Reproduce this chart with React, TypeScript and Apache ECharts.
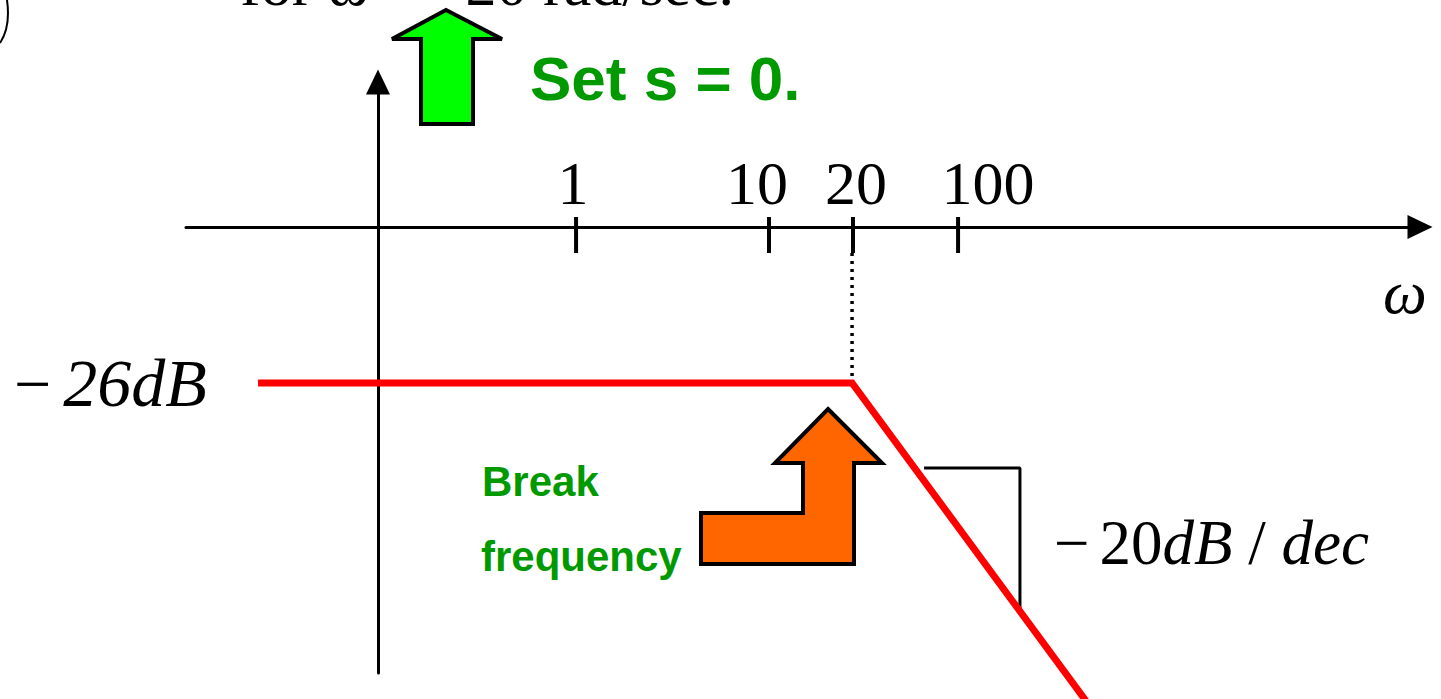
import React, { useEffect, useRef } from "react";
import * as echarts from "echarts";

// Sketch coordinates: x = decades measured from the vertical axis (sketch, not to scale), y = dB
const tickLabels = ["1", "10", "20", "100"];
const tickPos = [1.037, 2.047, 2.487, 3.037];
const magnitudeX = [-0.628, 2.482, 3.73];
const magnitudeDb = [-26, -26, -80];
const breakLineX = [2.482, 2.482];
const breakLineDb = [-4.33, -26];
const slopeX = [2.859, 3.361, 3.361];
const slopeDb = [-40.17, -40.17, -64];
const levelLabel = "26dB";
const slopeLabel = ["20", "dB", " / ", "dec"];

const SERIF = '"Liberation Serif", "Times New Roman", serif';
const SANS = '"Liberation Sans", Arial, sans-serif';
const labelShift = [-3, -12, 3, 30];

export default function App() {
  const ref = useRef<HTMLDivElement>(null);
  useEffect(() => {
    if (!ref.current) return;
    const chart = echarts.init(ref.current, undefined, { renderer: "svg" });
    const zip = (xs: number[], ys: number[]) => xs.map((x, i) => [x, ys[i]]);
    chart.setOption({
      animation: false,
      backgroundColor: "#ffffff",
      grid: { left: 186, right: 21, top: 82, bottom: 26, containLabel: false },
      xAxis: {
        type: "value",
        min: -1.0052,
        max: 5.4555,
        axisLine: {
          onZero: true,
          lineStyle: { color: "#000", width: 3 },
          symbol: ["none", "triangle"],
          symbolSize: [24, 25],
        },
        axisTick: { show: false },
        axisLabel: { show: false },
        splitLine: { show: false },
      },
      yAxis: {
        type: "value",
        min: -74.333,
        max: 24.167,
        axisLine: {
          onZero: true,
          lineStyle: { color: "#000", width: 3 },
          symbol: ["none", "triangle"],
          symbolSize: [24, 25],
        },
        axisTick: { show: false },
        axisLabel: { show: false },
        splitLine: { show: false },
      },
      series: [
        {
          type: "line",
          data: zip(slopeX, slopeDb),
          symbol: "none",
          clip: false,
          z: 2,
          lineStyle: { color: "#000", width: 3 },
        },
        {
          type: "line",
          data: zip(breakLineX, breakLineDb),
          symbol: "none",
          clip: false,
          z: 2,
          lineStyle: { color: "#000", width: 3.5, type: [3, 5] },
        },
        {
          type: "line",
          data: zip(magnitudeX, magnitudeDb),
          symbol: "none",
          clip: false,
          z: 3,
          lineStyle: { color: "#ff0000", width: 7, cap: "butt", join: "miter" },
        },
        {
          type: "scatter",
          data: tickPos.map((p, i) => ({
            value: [p, 0],
            label: { offset: [labelShift[i], 0] },
          })),
          symbol: "rect",
          symbolSize: [4, 36],
          symbolOffset: [0, 8],
          itemStyle: { color: "#000", opacity: 1 },
          clip: false,
          z: 4,
          label: {
            show: true,
            position: "top",
            distance: 3,
            formatter: (p: any) => tickLabels[p.dataIndex],
            fontFamily: SERIF,
            fontSize: 62,
            color: "#000",
            opacity: 1,
          },
        },
      ],
      graphic: [
        {
          type: "bezierCurve",
          shape: { x1: 6, y1: -6, cpx1: 11, cpy1: 20, cpx2: 6, cpy2: 34, x2: 0, y2: 43 },
          style: { stroke: "#000", lineWidth: 2, fill: "none" },
        },
        {
          type: "text",
          x: 240,
          y: 15,
          style: {
            text: "for ω  =  20 rad/sec.",
            font: `62px ${SERIF}`,
            fill: "#000",
            verticalAlign: "bottom",
          },
          z: 10,
        },
        {
          type: "polygon",
          shape: {
            points: [
              [446, 10], [502, 39], [473, 39], [473, 124], [421, 124], [421, 39], [392, 39],
            ],
          },
          style: { fill: "#00ff00", stroke: "#000", lineWidth: 4 },
          z: 10,
        },
        {
          type: "text",
          x: 530,
          y: 78,
          style: {
            text: "Set s = 0.",
            font: `bold 62px ${SANS}`,
            fill: "#009900",
            verticalAlign: "middle",
          },
          z: 10,
        },
        {
          type: "polygon",
          shape: {
            points: [
              [828, 409], [882, 463], [854, 463], [854, 564], [701, 564], [701, 513], [803, 513], [803, 463], [775, 463],
            ],
          },
          style: { fill: "#ff6600", stroke: "#000", lineWidth: 4 },
          z: 10,
        },
        {
          type: "text",
          x: 482,
          y: 481,
          style: { text: "Break", font: `bold 42px ${SANS}`, fill: "#009900", verticalAlign: "middle" },
          z: 10,
        },
        {
          type: "text",
          x: 481,
          y: 556,
          style: { text: "frequency", font: `bold 42px ${SANS}`, fill: "#009900", verticalAlign: "middle" },
          z: 10,
        },
        {
          type: "text",
          x: 14,
          y: 383,
          style: {
            text: `{m|−}{i|${levelLabel}}`,
            verticalAlign: "middle",
            rich: {
              m: { font: `66px ${SERIF}`, fill: "#000", padding: [0, 12, 0, 0] },
              i: { font: `italic 68px ${SERIF}`, fill: "#000" },
            },
          },
          z: 10,
        },
        {
          type: "text",
          x: 1054,
          y: 543,
          style: {
            text: `{m|−}{n|${slopeLabel[0]}}{i|${slopeLabel[1]}}{n|${slopeLabel[2]}}{i|${slopeLabel[3]}}`,
            verticalAlign: "middle",
            rich: {
              m: { font: `63px ${SERIF}`, fill: "#000", padding: [0, 10, 0, 0] },
              n: { font: `63px ${SERIF}`, fill: "#000" },
              i: { font: `italic 63px ${SERIF}`, fill: "#000" },
            },
          },
          z: 10,
        },
        {
          type: "text",
          x: 1405,
          y: 292,
          style: { text: "ω", font: `italic 62px ${SERIF}`, fill: "#000", align: "center", verticalAlign: "middle" },
          z: 10,
        },
      ],
    });
    return () => chart.dispose();
  }, []);
  return (
    <div
      ref={ref}
      style={{ position: "absolute", left: 0, top: 0, width: 1441, height: 699, background: "#fff" }}
    />
  );
}
